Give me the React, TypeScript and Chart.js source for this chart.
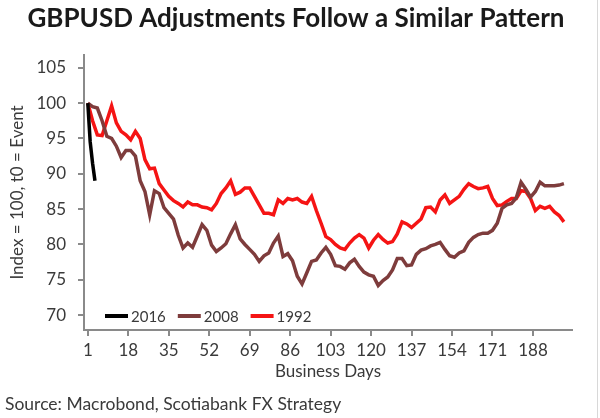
import React, { useEffect, useRef } from "react";
import { Chart, registerables } from "chart.js";

Chart.register(...registerables);

const TITLE = "GBPUSD Adjustments Follow a Similar Pattern";
const SOURCE = "Source: Macrobond, Scotiabank FX Strategy";
const Y_TITLE = "Index = 100, t0 = Event";
const X_TITLE = "Business Days";

const X_TICKS = [1, 18, 35, 52, 69, 86, 103, 120, 137, 154, 171, 188];
const Y_TICKS = [70, 75, 80, 85, 90, 95, 100, 105];

const SERIES_LABELS = ["2016", "2008", "1992"];
const SERIES_COLORS = ["#000000", "#7e3c3c", "#f51414"];

const DAYS_2016 = [1, 2, 3, 4];
const VALUES_2016 = [100, 94.5, 91.5, 89];

const DAYS = [
  1, 3, 5, 7, 9, 11, 13, 15, 17, 19, 21, 23, 25, 27, 29, 31, 33, 35, 37, 39,
  41, 43, 45, 47, 49, 51, 53, 55, 57, 59, 61, 63, 65, 67, 69, 71, 73, 75, 77, 79,
  81, 83, 85, 87, 89, 91, 93, 95, 97, 99, 101, 103, 105, 107, 109, 111, 113, 115, 117, 119,
  121, 123, 125, 127, 129, 131, 133, 135, 137, 139, 141, 143, 145, 147, 149, 151, 153, 155, 157, 159,
  161, 163, 165, 167, 169, 171, 173, 175, 177, 179, 181, 183, 185, 187, 189, 191, 193, 195, 197, 199,
  201,
];

const VALUES_2008 = [
  100, 99.5, 99.3, 97.5, 95.3, 95.0, 93.9, 92.3, 93.3, 93.3,
  92.5, 89.0, 87.5, 84.2, 87.6, 87.2, 85.2, 84.4, 83.6, 81.3,
  79.5, 80.2, 79.6, 81.2, 82.8, 82.0, 79.9, 79.0, 79.5, 80.1,
  81.5, 82.8, 80.8, 80.0, 79.3, 78.6, 77.6, 78.4, 78.8, 80.2,
  81.2, 78.3, 78.7, 77.7, 75.5, 74.4, 76.0, 77.6, 77.8, 78.8,
  79.6, 78.6, 77.0, 76.9, 76.5, 77.4, 77.9, 76.9, 76.1, 75.7,
  75.5, 74.2, 74.9, 75.4, 76.4, 78.0, 78.0, 77.0, 77.1, 78.6,
  79.2, 79.4, 79.8, 80.0, 80.3, 79.3, 78.4, 78.2, 78.8, 79.1,
  80.3, 81.0, 81.4, 81.6, 81.6, 82.0, 83.0, 85.1, 85.6, 85.8,
  86.6, 88.8, 87.8, 86.7, 87.5, 88.8, 88.3, 88.3, 88.3, 88.4,
  88.6,
];

const VALUES_1992 = [
  100, 97.5, 95.5, 95.4, 97.5, 99.6, 97.2, 96.0, 95.5, 94.8,
  96.0, 95.0, 92.0, 90.7, 90.8, 88.6, 87.7, 86.8, 86.2, 85.8,
  85.3, 86.0, 85.6, 85.6, 85.3, 85.2, 84.9, 85.8, 87.2, 88.0,
  89.0, 87.1, 87.4, 88.0, 88.0, 86.8, 85.6, 84.4, 84.4, 84.2,
  86.3, 85.8, 86.5, 86.3, 86.5, 86.0, 85.8, 86.8, 84.8, 83.0,
  81.1, 80.7, 80.0, 79.5, 79.3, 80.2, 80.9, 81.4, 80.9, 79.5,
  80.6, 81.4, 80.7, 80.2, 80.4, 81.5, 83.2, 82.9, 82.4, 83.0,
  83.6, 85.2, 85.3, 84.6, 86.3, 87.0, 85.8, 86.3, 86.8, 87.8,
  88.6, 88.2, 87.9, 88.0, 88.2, 86.5, 85.5, 85.6, 86.1, 86.5,
  86.5, 87.6, 87.5, 86.5, 84.8, 85.4, 85.1, 85.4, 84.6, 84.1,
  83.2,
];

const FONT = "Lato, 'Open Sans', sans-serif";
const TEXT_COLOR = "#3a3a3a";
const AXIS_COLOR = "#8a8a8a";

const toPoints = (xs: number[], ys: number[]) => xs.map((x, i) => ({ x, y: ys[i] }));

const textPlugin = {
  id: "textPlugin",
  afterDraw(chart: any) {
    const ctx = chart.ctx;
    ctx.save();
    ctx.fillStyle = "#1a1a1a";
    ctx.font = `bold 26px ${FONT}`;
    ctx.textAlign = "center";
    ctx.textBaseline = "middle";
    ctx.fillText(TITLE, 296, 19);
    ctx.fillStyle = TEXT_COLOR;
    ctx.font = `17.5px ${FONT}`;
    ctx.textAlign = "left";
    ctx.fillText(SOURCE, 5, 404);
    ctx.strokeStyle = "#d8d8d8";
    ctx.lineWidth = 1;
    ctx.beginPath();
    ctx.moveTo(597.5, 0);
    ctx.lineTo(597.5, 418);
    ctx.stroke();
    ctx.restore();
  },
};

const legendPlugin = {
  id: "innerLegend",
  afterDatasetsDraw(chart: any) {
    const ctx = chart.ctx;
    const area = chart.chartArea;
    let x = area.left + 21;
    const y = 316;
    ctx.save();
    ctx.font = `15px ${FONT}`;
    ctx.textBaseline = "middle";
    ctx.textAlign = "left";
    chart.data.datasets.forEach((ds: any) => {
      ctx.strokeStyle = ds.borderColor;
      ctx.lineWidth = 4;
      ctx.beginPath();
      ctx.moveTo(x, y);
      ctx.lineTo(x + 23, y);
      ctx.stroke();
      ctx.fillStyle = TEXT_COLOR;
      ctx.fillText(ds.label, x + 26, y + 1);
      x += 26 + ctx.measureText(ds.label).width + 12;
    });
    ctx.restore();
  },
};

export default function App() {
  const ref = useRef<HTMLCanvasElement | null>(null);

  useEffect(() => {
    if (!ref.current) return;
    const chart = new Chart(ref.current, {
      type: "line",
      data: {
        datasets: [
          {
            label: SERIES_LABELS[0],
            data: toPoints(DAYS_2016, VALUES_2016),
            borderColor: SERIES_COLORS[0],
            borderWidth: 3.5,
            pointRadius: 0,
            tension: 0,
          },
          {
            label: SERIES_LABELS[1],
            data: toPoints(DAYS, VALUES_2008),
            borderColor: SERIES_COLORS[1],
            borderWidth: 3.5,
            pointRadius: 0,
            tension: 0,
          },
          {
            label: SERIES_LABELS[2],
            data: toPoints(DAYS, VALUES_1992),
            borderColor: SERIES_COLORS[2],
            borderWidth: 3.5,
            pointRadius: 0,
            tension: 0,
          },
        ],
      },
      options: {
        animation: false,
        responsive: true,
        maintainAspectRatio: false,
        layout: { padding: { left: 0, right: 28, top: 55, bottom: 28 } },
        plugins: {
          legend: { display: false },
          title: { display: false },
          tooltip: { enabled: false },
        },
        scales: {
          x: {
            type: "linear",
            min: -0.6,
            max: 204.4,
            afterBuildTicks: (axis: any) => {
              axis.ticks = X_TICKS.map((v) => ({ value: v }));
            },
            afterFit: (axis: any) => {
              axis.height = 60;
            },
            ticks: {
              autoSkip: false,
              maxRotation: 0,
              padding: 4,
              color: TEXT_COLOR,
              font: { family: FONT, size: 17 },
            },
            grid: {
              display: true,
              drawOnChartArea: false,
              drawTicks: true,
              tickLength: 6,
              color: AXIS_COLOR,
              lineWidth: 2,
            },
            border: { display: true, color: AXIS_COLOR, width: 2 },
            title: {
              display: true,
              text: X_TITLE,
              color: TEXT_COLOR,
              font: { family: FONT, size: 17 },
              padding: { top: 0, bottom: 8 },
            },
          },
          y: {
            type: "linear",
            min: 67.9,
            max: 106.8,
            afterBuildTicks: (axis: any) => {
              axis.ticks = Y_TICKS.map((v) => ({ value: v }));
            },
            afterFit: (axis: any) => {
              axis.width = 84;
            },
            ticks: {
              padding: 12,
              color: TEXT_COLOR,
              font: { family: FONT, size: 17 },
            },
            grid: {
              display: true,
              drawOnChartArea: false,
              drawTicks: true,
              tickLength: 6,
              color: AXIS_COLOR,
              lineWidth: 2,
            },
            border: { display: true, color: AXIS_COLOR, width: 2 },
            title: {
              display: true,
              text: Y_TITLE,
              color: TEXT_COLOR,
              font: { family: FONT, size: 17 },
              padding: { top: 7, bottom: 0 },
            },
          },
        },
      },
      plugins: [legendPlugin, textPlugin],
    });
    return () => chart.destroy();
  }, []);

  return (
    <div style={{ position: "absolute", left: 0, top: 0, width: 600, height: 418, background: "#ffffff" }}>
      <canvas ref={ref} />
    </div>
  );
}
